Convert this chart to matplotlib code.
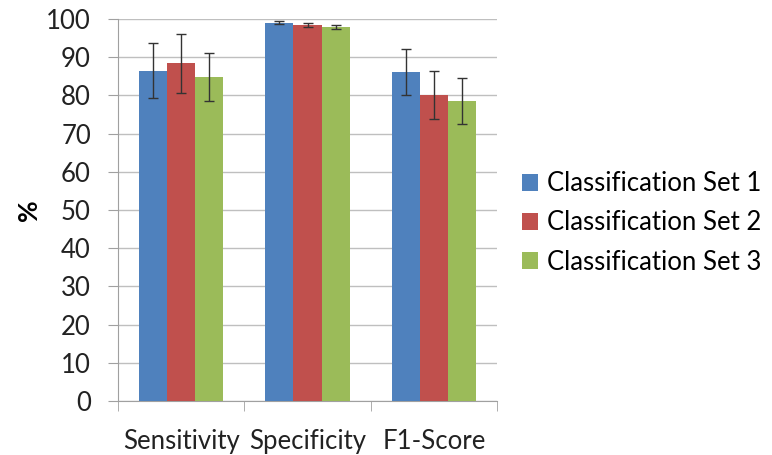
import matplotlib
matplotlib.use("Agg")
import matplotlib.pyplot as plt
import numpy as np

categories = ["Sensitivity", "Specificity", "F1-Score"]
series = ["Classification Set 1", "Classification Set 2", "Classification Set 3"]
set1 = [86.4, 99.0, 86.1]
set2 = [88.4, 98.4, 80.2]
set3 = [84.9, 97.9, 78.5]
err1 = [7.2, 0.4, 6.0]
err2 = [7.8, 0.5, 6.3]
err3 = [6.3, 0.5, 6.0]
colors = ["#4F81BD", "#C0504D", "#9BBB59"]

plt.rcParams['font.family'] = ['Lato', 'DejaVu Sans']

fig = plt.figure(figsize=(7.72, 4.55), dpi=100)
ax = fig.add_axes([118/772, 1-401/455, (497-118)/772, (401-19)/455])

x = np.arange(len(categories))
w = 0.222
for i, (vals, errs) in enumerate(zip([set1, set2, set3], [err1, err2, err3])):
    ax.bar(x + (i-1)*w, vals, w, color=colors[i], label=series[i],
           yerr=errs, capsize=3.5, error_kw=dict(ecolor="#333333", elinewidth=1, capthick=1),
           zorder=3)

ax.set_xlim(-0.5, 2.5)
ax.set_ylim(0, 100)
ax.set_yticks(np.arange(0, 101, 10))
ax.tick_params(axis='y', labelsize=18.5, length=7.5, color="#A0A0A0", pad=12, labelcolor="#222222")
ax.set_xticks(x)
ax.set_xticklabels(categories, fontsize=18.5, color="#222222")
ax.tick_params(axis='x', length=0, pad=20)
ax.set_xticks([-0.5, 0.5, 1.5, 2.5], minor=True)
ax.tick_params(axis='x', which='minor', length=7, color="#A0A0A0")
ax.grid(axis='y', color="#BFBFBF", linewidth=1, zorder=0)
for s in ['top', 'right']:
    ax.spines[s].set_visible(False)
ax.spines['left'].set_color("#A0A0A0")
ax.spines['bottom'].set_color("#A0A0A0")
ax.set_ylabel("%", fontsize=19, fontweight='bold', labelpad=4)

fig.legend(*ax.get_legend_handles_labels(), loc='center left',
           bbox_to_anchor=(522/772, 1-223/455), bbox_transform=fig.transFigure,
           frameon=False, borderpad=0, borderaxespad=0,
           fontsize=18.5, handlelength=0.62, handleheight=0.62,
           labelspacing=0.55, handletextpad=0.35)

fig.savefig("out.png", dpi=100)
